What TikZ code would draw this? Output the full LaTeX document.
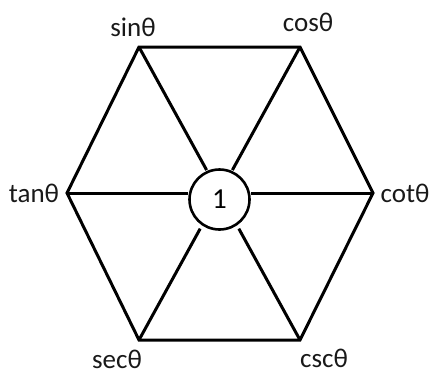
\documentclass[tikz,border=0pt]{standalone}
\usepackage{fontspec}
\setmainfont{Carlito}
\usepackage{tikz}
\usetikzlibrary{positioning,calc}

\begin{document}
\begin{tikzpicture}[
  x=1pt, y=-1pt,
  font=\fontsize{27}{31}\selectfont,
  edge/.style={line width=3pt, draw=black},
  hub/.style={draw=black, line width=2.6pt, circle, minimum size=60pt, inner sep=0pt},
  lbl/.style={text=black!90, inner sep=0pt}
]
\useasboundingbox (0,0) rectangle (430,376);

% corners of the hexagon
\coordinate (vsin) at (139,47);
\coordinate (vcos) at (300,47);
\coordinate (vcot) at (373,193);
\coordinate (vcsc) at (300,340);
\coordinate (vsec) at (139,340);
\coordinate (vtan) at (67,193);

\node[hub, font=\fontsize{29}{33}\selectfont] (one) at (219.5,199.5) {1};

\draw[edge] (vsin) -- (vcos) -- (vcot) -- (vcsc) -- (vsec) -- (vtan) -- cycle;
% spokes: the horizontal ones touch the hub, the slanted ones stop short of it
\draw[edge] (vtan) -- (vtan -| one.west);
\draw[edge] (vcot) -- (vcot -| one.east);
\draw[edge] (vsin) -- ($(vsin)!0.42!(vcsc)$);
\draw[edge] (vcsc) -- ($(vcsc)!0.38!(vsin)$);
\draw[edge] (vcos) -- ($(vcos)!0.42!(vsec)$);
\draw[edge] (vsec) -- ($(vsec)!0.38!(vcos)$);

\node[lbl] (lsin) at (133,27) {sinθ};
\node[lbl] (lcos) at (308,22) {cosθ};
\node[lbl] (ltan) at (34,193) {tanθ};
\node[lbl] (lcot) at (405,193) {cotθ};
\node[lbl] (lsec) at (117,359) {secθ};
\node[lbl] (lcsc) at (324,358) {cscθ};
\end{tikzpicture}
\end{document}
